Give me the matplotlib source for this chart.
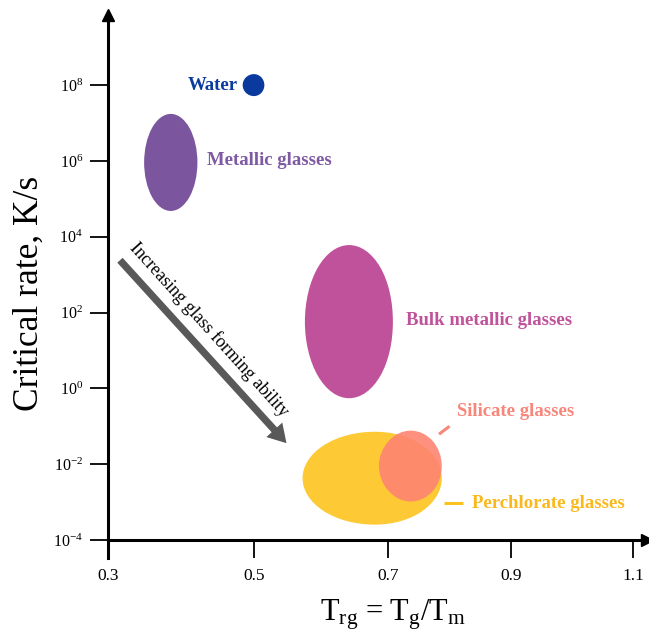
import matplotlib
matplotlib.use("Agg")
import matplotlib.pyplot as plt
import numpy as np
from matplotlib.patches import Ellipse

plt.rcParams['font.family'] = ['Liberation Serif', 'DejaVu Serif']
plt.rcParams['mathtext.fontset'] = 'custom'
plt.rcParams['mathtext.rm'] = 'Liberation Serif'
plt.rcParams['mathtext.it'] = 'Liberation Serif:italic'
plt.rcParams['mathtext.default'] = 'regular'

# Glass families: centre (T_rg, log10 rate) and extent (width in T_rg, height in decades)
names = ["Water", "Metallic glasses", "Bulk metallic glasses",
         "Perchlorate glasses", "Silicate glasses"]
trg_center = [0.50, 0.386, 0.642, 0.680, 0.737]
log_rate_center = [8.0, 5.96, 1.76, -2.37, -2.05]
trg_width = [0.031, 0.073, 0.132, 0.215, 0.101]
log_rate_height = [0.58, 2.56, 4.04, 2.45, 1.87]
fill_colors = ["#0a3a9e", "#7b559d", "#c0529b", "#fdc934", "#fd8471"]
fill_alpha = [1.0, 1.0, 1.0, 1.0, 0.9]

# Axis ticks
x_ticks = [0.3, 0.5, 0.7, 0.9, 1.1]
x_tick_labels = ["0.3", "0.5", "0.7", "0.9", "1.1"]
y_ticks = [-4, -2, 0, 2, 4, 6, 8]
y_tick_labels = ["10$^{%d}$" % v for v in y_ticks]

# The T_rg axis of this schematic is hand-spaced: tick intervals shrink to the right
trg_knots = [0.3, 0.5, 0.7, 0.9, 1.1, 1.3]
trg_axis_units = [0.0, 146.0, 280.0, 403.0, 525.0, 647.0]


def trg_forward(v):
    return np.interp(v, trg_knots, trg_axis_units)


def trg_inverse(u):
    return np.interp(u, trg_axis_units, trg_knots)


# Trend arrow (T_rg, log10 rate)
arrow_start = (0.3164, 3.38)
arrow_end = (0.5485, -1.446)

fig = plt.figure(figsize=(6.49, 6.32), dpi=100)
ax = fig.add_axes([0.1664, 0.1456, 0.8305, 0.8307])
ax.set_xscale('function', functions=(trg_forward, trg_inverse))
ax.set_xlim(0.3, 1.123)
ax.set_ylim(-4, 9.85)

for c, y, w, h, col, a in zip(trg_center, log_rate_center, trg_width,
                              log_rate_height, fill_colors, fill_alpha):
    ax.add_patch(Ellipse((c, y), w, h, facecolor=col, edgecolor='none',
                         alpha=a, zorder=2))

# Labels next to each family
label_size = 13.5
ax.text(0.4785, 8.0, "Water", color="#0a3a9e", fontsize=label_size,
        fontweight='bold', ha='right', va='center')
ax.text(0.4356, 6.0, "Metallic glasses", color="#7f5aa2", fontsize=label_size,
        fontweight='bold', ha='left', va='center')
ax.text(0.730, 1.8, "Bulk metallic glasses", color="#c0529b",
        fontsize=label_size, fontweight='bold', ha='left', va='center')
ax.text(0.812, -0.6, "Silicate glasses", color="#f8877b", fontsize=label_size,
        fontweight='bold', ha='left', va='center')
ax.text(0.836, -3.03, "Perchlorate glasses", color="#fbb81c",
        fontsize=label_size, fontweight='bold', ha='left', va='center')

# Leader lines
ax.plot([0.783, 0.800], [-1.21, -1.0], color="#f8877b", lw=2.2,
        solid_capstyle='butt', zorder=3)
ax.plot([0.791, 0.8215], [-3.02, -3.02], color="#fcc21f", lw=2.2,
        solid_capstyle='butt', zorder=3)

# Trend arrow and its caption
ax.annotate("", xy=arrow_end, xytext=arrow_start,
            arrowprops=dict(facecolor="#595959", edgecolor='none',
                            width=5.2, headwidth=15.5, headlength=13,
                            shrink=0.0), zorder=3)
ax.annotate("Increasing glass forming ability", xy=arrow_start, xytext=(13, 15),
            textcoords='offset pixels', rotation=-47.9, rotation_mode='anchor',
            ha='left', va='center', fontsize=13, color='black')

# Axes styling
for side in ("top", "right"):
    ax.spines[side].set_visible(False)
for side in ("left", "bottom"):
    ax.spines[side].set_linewidth(2.2)
    ax.spines[side].set_color('black')
ax.spines['left'].set_bounds(-4.47, 9.85)

ax.set_xticks(x_ticks)
ax.set_xticklabels(x_tick_labels)
ax.set_xticks([], minor=True)
ax.set_yticks(y_ticks)
ax.set_yticklabels(y_tick_labels)
ax.tick_params(axis='x', direction='out', length=13, width=1.3, pad=7,
               labelsize=12.5)
ax.tick_params(axis='y', direction='out', length=13, width=1.3, pad=5,
               labelsize=11.5)

# Arrowheads at the ends of both axes
ax.plot(0, 1, marker='^', markersize=8, color='black',
        transform=ax.transAxes, clip_on=False, zorder=5)
ax.plot(1, 0, marker='>', markersize=8, color='black',
        transform=ax.transAxes, clip_on=False, zorder=5)

ax.set_xlabel("T$_{rg}$ = T$_{g}$/T$_{m}$", fontsize=22)
ax.xaxis.set_label_coords(0.529, -0.109)
ax.set_ylabel("Critical rate, K/s", fontsize=25.5)
ax.yaxis.set_label_coords(-0.115, 0.47)

fig.savefig("out.png", dpi=100)
